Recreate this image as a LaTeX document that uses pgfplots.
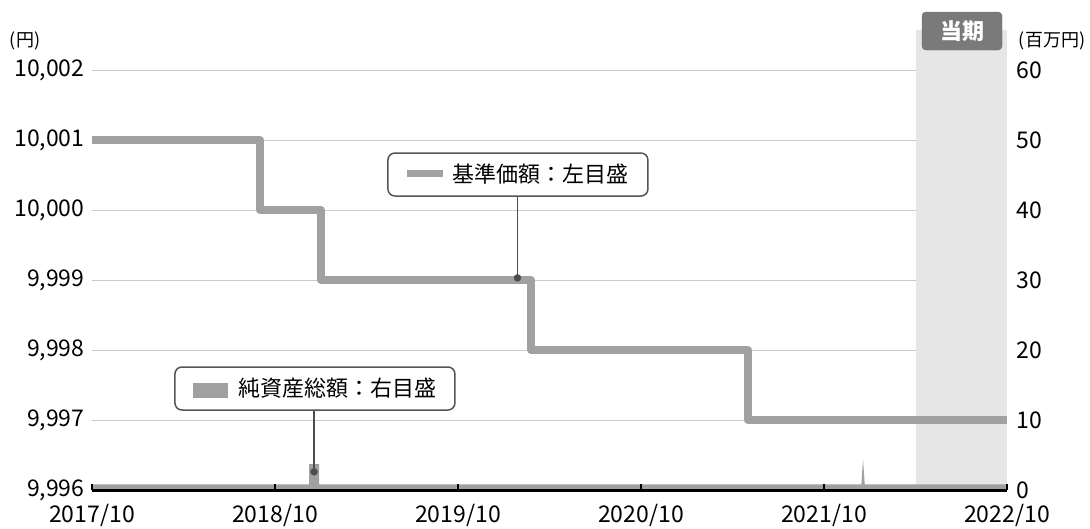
\documentclass[border=0pt]{standalone}
\usepackage{fontspec}
\setmainfont{Noto Sans CJK JP}
\usepackage{pgfplots}
\pgfplotsset{compat=1.18}
\definecolor{linegray}{HTML}{A0A2A2}
\definecolor{areagray}{HTML}{A0A0A0}
\definecolor{gridgray}{HTML}{CCCCCC}
\definecolor{boxborder}{HTML}{555555}
\definecolor{dotgray}{HTML}{4D4D4D}
\definecolor{shadegray}{HTML}{E6E6E6}
\definecolor{tagfill}{HTML}{7A7A7A}
\newcommand{\tickfont}{\fontsize{23}{26}\selectfont}
\newcommand{\boxfont}{\fontsize{22}{26}\selectfont}
\begin{document}
\begin{tikzpicture}
\useasboundingbox (0,0) rectangle (1090pt,528pt);
% ---------- left axis: 基準価額 ----------
\begin{axis}[
  at={(92pt,38pt)}, anchor=south west, scale only axis,
  width=915pt, height=420pt,
  xmin=0, xmax=60, ymin=9996, ymax=10002,
  axis x line=none, axis y line*=left, y axis line style={draw=none},
  ytick={9996,9997,9998,9999,10000,10001,10002}, ytick style={draw=none},
  scaled y ticks=false,
  /pgf/number format/1000 sep={,}, /pgf/number format/assume math mode=true,
  yticklabel style={font=\tickfont, xshift=-4pt},
  ymajorgrids, grid style={gridgray, line width=0.8pt},
  clip=false,
]
\fill[shadegray] (axis cs:54,9996) rectangle (axis cs:60,10002.57);
\addplot[const plot, linegray, line width=8pt, line join=round] coordinates {
  (0,10001) (11,10000) (15,9999) (28.8,9998) (43,9997) (60,9997)};
\draw[dotgray, line width=1.3pt] (axis cs:27.9,10000.2) -- (axis cs:27.9,9999.03);
\addplot[only marks, mark=*, mark size=3.5pt, dotgray] coordinates {(27.9,9999.03)};
\node[draw=boxborder, line width=1.5pt, rounded corners=7pt, fill=white,
      minimum width=260pt, minimum height=43pt, inner sep=0pt, font=\boxfont]
  at (axis cs:27.93,10000.507)
  {\textcolor{linegray}{\rule[0.28em]{36pt}{7pt}}\hspace{10pt}基準価額：左目盛};
\node[fill=tagfill, draw=tagfill!85!black, rounded corners=4pt, minimum width=80pt, minimum height=38pt,
      text=white, font=\bfseries\boxfont, inner sep=0pt]
  at (axis cs:57.05,10002.557) {当期};
\end{axis}
% ---------- right axis: 純資産総額 ----------
\begin{axis}[
  at={(92pt,38pt)}, anchor=south west, scale only axis,
  width=915pt, height=420pt,
  xmin=0, xmax=60, ymin=0, ymax=60,
  axis x line*=bottom, axis y line*=right,
  x axis line style={line width=3pt, black, -}, y axis line style={draw=none},
  xtick={0,12,24,36,48,60},
  xticklabels={2017/10,2018/10,2019/10,2020/10,2021/10,2022/10},
  x tick style={black, line width=2pt}, tick align=inside, major tick length=6pt,
  ytick={0,10,20,30,40,50,60}, ytick style={draw=none},
  /pgf/number format/assume math mode=true,
  yticklabel style={font=\tickfont, xshift=6pt},
  xticklabel style={font=\tickfont, yshift=-11pt},
  axis on top, clip=false,
]
\addplot[fill=areagray, draw=none] coordinates {
  (0,0.8) (14.24,0.8) (14.24,3.7) (14.9,3.7) (14.9,0.8) (50.45,0.8) (50.56,4.4) (50.67,0.8) (60,0.8)} \closedcycle;
\draw[dotgray, line width=1.3pt] (axis cs:14.56,11.4) -- (axis cs:14.56,2.6);
\addplot[only marks, mark=*, mark size=3.5pt, dotgray] coordinates {(14.56,2.6)};
\node[draw=boxborder, line width=1.5pt, rounded corners=7pt, fill=white,
      minimum width=280pt, minimum height=43pt, inner sep=0pt, font=\boxfont]
  at (axis cs:14.62,14.5)
  {\textcolor{areagray}{\rule[-0.05em]{35pt}{15pt}}\hspace{10pt}純資産総額：右目盛};
\end{axis}
\node[font=\fontsize{18}{20}\selectfont] at (25pt,487pt) {(円)};
\node[font=\fontsize{18}{20}\selectfont] at (1052pt,487pt) {(百万円)};
\end{tikzpicture}
\end{document}
